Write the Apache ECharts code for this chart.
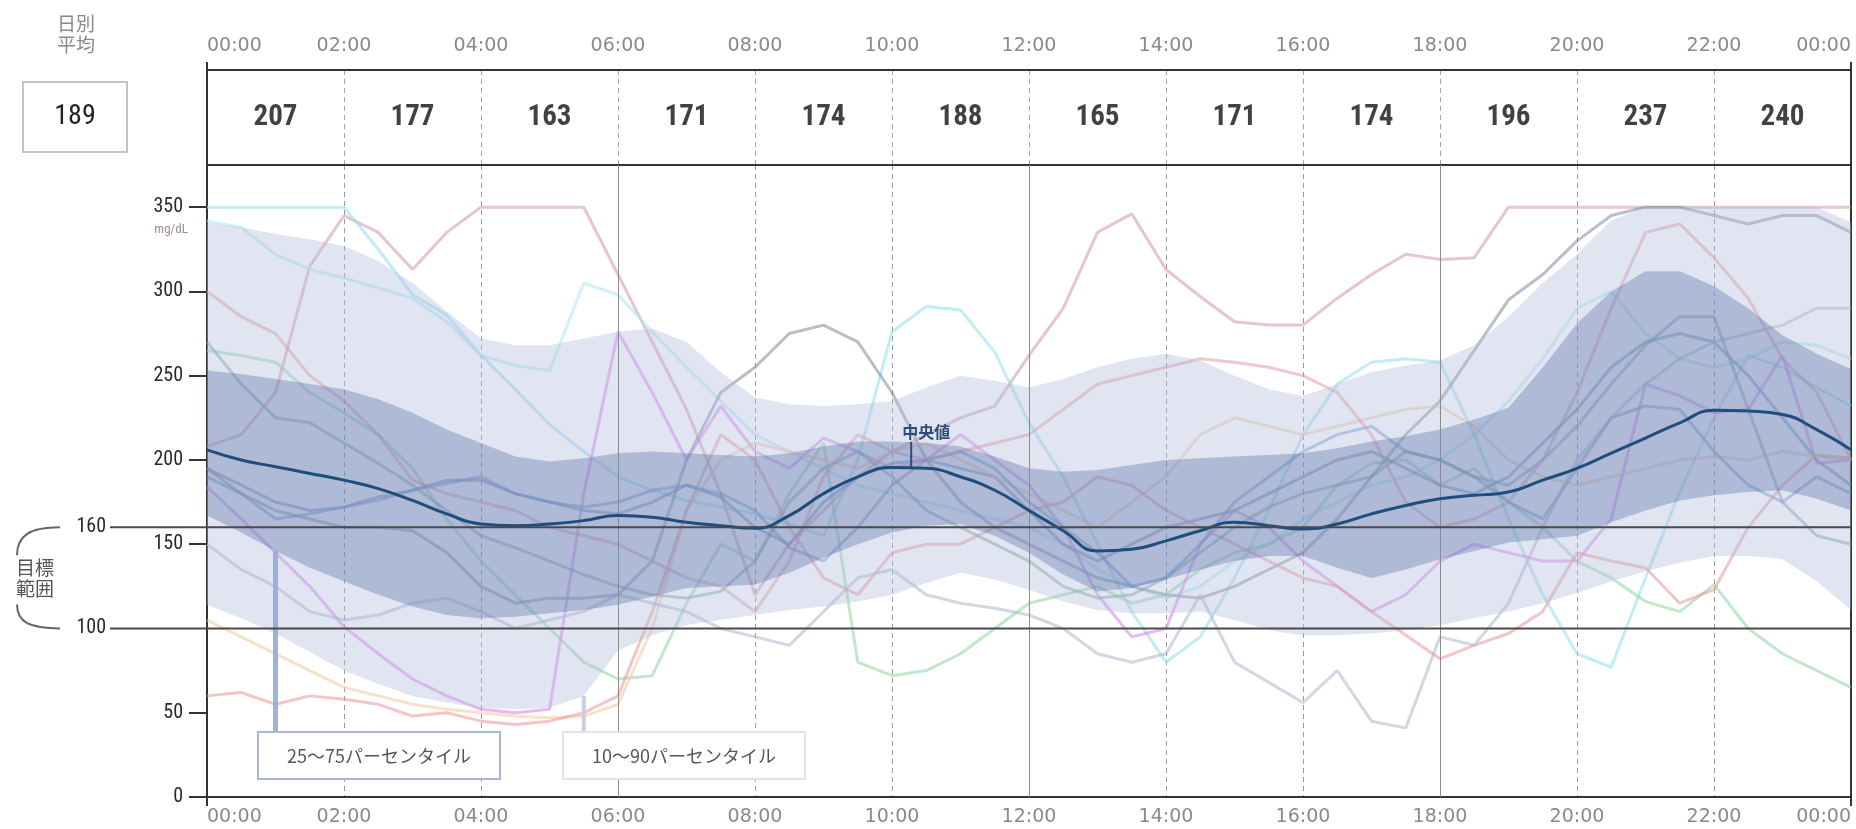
<!DOCTYPE html>
<html>
<head>
<meta charset="utf-8">
<script src="https://cdn.jsdelivr.net/npm/echarts@6/dist/echarts.min.js"></script>
<style>
  html, body { margin: 0; padding: 0; background: #fff; }
  #chart { width: 1856px; height: 829px; }
</style>
</head>
<body>
<div id="chart"></div>
<script>
// ---- data -------------------------------------------------------------
// half-hour time grid (hours since midnight)
const HOURS = [0,0.5,1,1.5,2,2.5,3,3.5,4,4.5,5,5.5,6,6.5,7,7.5,8,8.5,9,9.5,10,10.5,11,11.5,
               12,12.5,13,13.5,14,14.5,15,15.5,16,16.5,17,17.5,18,18.5,19,19.5,20,20.5,21,21.5,
               22,22.5,23,23.5,24];

// two-hour block averages shown in the header row, and the daily average
const BLOCK_AVG = [207, 177, 163, 171, 174, 188, 165, 171, 174, 196, 237, 240];
const DAILY_AVG = 189;

// target range limits (mg/dL)
const TARGET = [160, 100];
const Y_TICKS = [0, 50, 150, 200, 250, 300, 350];

// percentile profile
const MEDIAN = [206,200,196,192,188,183,176,168,162,161,162,164,167,166,163,161,159.5,167,180,190,
                195.5,195,190,182,170,158,146,147,152,158,163,161,159,162,168,173,177,179,181,188,
                195,204,213,222,229.5,229,227,218,206];
const P10 = [114,106,97,86,75,67,60,56,53,52,53,60,87,96,102,105,108,111,113,116,120,127,133,129,
             123,116,111,109,109,110,105,99,96,96,97,99,102,106,110,115,121,128,134,139,143,143,141,128,111];
const P25 = [167,157,146,136,128,120,113,108,106,107,109,111,114,119,124,125,126,133,142,150,157,161,
             162,155,145,132,122,124,129,135,140,143,143,136,130,135,141,146,151,153,155,163,170,176,
             179,181,182,177,170];
const P75 = [253,251,248,245,242,236,228,218,210,202,199,201,204,205,204,203,202,204,208,211,211,210,
             208,202,195,193,194,197,200,201,202,203,204,207,211,214,218,224,231,255,281,300,312,312,
             303,290,274,263,254];
const P90 = [341,338,334,331,327,318,305,288,272,268,268,272,276,278,270,252,237,233,232,233,235,243,
             250,247,243,248,255,260,263,259,250,242,238,245,252,256,259,268,285,305,322,342,350,350,
             350,350,350,350,341];

// daily glucose traces
const DAY_A = [208,215,240,315,345,335,313,335,350,350,350,350,310,270,230,180,120,150,170,190,205,215,
               225,232,262,290,335,346,313,297,282,280,280,296,310,322,319,320,350,350,350,350,350,350,
               350,350,350,350,350];
const DAY_B = [350,350,350,350,350,325,298,286,262,242,221,205,190,182,176,172,168,162,155,200,276,291,
               289,264,222,190,150,110,80,95,130,170,215,245,258,260,258,215,165,120,85,77,130,181,225,
               262,255,243,232];
const DAY_C = [342,338,322,313,308,302,296,282,262,256,253,305,298,276,255,235,215,205,195,185,180,175,
               170,165,160,150,135,125,118,125,140,150,165,175,185,190,200,215,235,260,290,300,275,260,
               255,260,270,268,260];
const DAY_D = [265,262,258,240,228,215,195,165,140,120,100,80,70,72,115,150,140,180,210,80,72,75,85,100,
               115,120,125,115,120,135,145,150,160,185,198,200,185,195,175,160,140,130,116,110,126,100,
               85,75,65];
const DAY_E = [195,185,175,170,172,178,182,188,188,180,175,170,168,175,185,178,160,150,175,190,198,200,
               195,190,170,150,140,150,160,165,170,180,190,200,205,195,185,180,190,210,230,255,270,275,
               270,250,225,200,185];
const DAY_F = [195,180,170,165,160,160,158,145,125,115,118,118,120,140,200,240,255,275,280,270,240,200,
               175,160,150,140,130,125,120,118,125,135,145,165,190,215,235,265,295,310,330,345,350,350,
               345,340,345,345,335];
const DAY_G = [184,165,145,125,101,85,70,60,52,50,52,180,276,240,200,232,205,195,213,205,195,200,215,200,
               185,160,120,95,100,150,170,160,140,125,110,120,140,150,145,140,140,165,245,238,228,230,
               262,198,200];
const DAY_H = [105,95,85,75,65,60,55,52,50,48,47,48,55,100,170,200,210,205,200,195,205,210,200,190,180,
               170,160,175,190,215,225,220,215,220,225,230,232,220,200,190,185,190,195,200,202,200,205,
               202,200];
const DAY_I = [60,62,55,60,58,55,48,50,45,43,45,50,60,110,170,215,200,160,130,120,145,150,150,160,170,
               175,190,185,170,160,150,140,130,125,110,96,82,90,97,110,145,140,136,115,123,160,185,203,201];
const DAY_J = [190,180,165,168,172,176,182,186,190,180,175,172,175,182,185,180,170,148,140,160,185,200,
               205,195,175,160,145,125,130,150,175,190,205,215,220,205,200,190,175,165,195,225,232,230,
               205,185,175,190,180];
const DAY_K = [150,135,125,110,105,108,115,118,110,100,105,110,120,115,110,100,95,90,110,130,135,120,115,
               112,108,100,85,80,85,120,80,68,56,75,45,41,95,90,115,160,200,225,245,260,270,275,280,290,290];
const DAY_L = [270,245,225,222,210,198,185,170,155,148,140,132,125,120,118,122,140,175,195,205,190,170,
               160,150,140,125,118,120,130,145,160,172,180,185,190,205,200,190,185,200,220,245,268,285,
               285,230,175,155,150];
const DAY_M = [300,285,275,250,235,215,188,180,175,170,160,155,150,140,130,125,110,140,190,215,205,200,
               205,210,215,230,245,250,255,260,258,255,250,240,215,175,160,165,175,200,240,290,335,340,
               320,296,260,240,200];

const DAYS = [DAY_A, DAY_B, DAY_C, DAY_D, DAY_E, DAY_F, DAY_G, DAY_H, DAY_I, DAY_J, DAY_K, DAY_L, DAY_M];
const DAY_COLORS = [
  'rgba(205,140,160,0.5)', 'rgba(150,225,240,0.6)', 'rgba(175,235,245,0.6)', 'rgba(140,215,160,0.55)',
  'rgba(95,125,170,0.5)', 'rgba(115,125,145,0.5)', 'rgba(215,125,235,0.55)', 'rgba(240,200,160,0.55)',
  'rgba(235,150,150,0.55)', 'rgba(95,145,200,0.5)', 'rgba(165,178,200,0.5)', 'rgba(105,160,150,0.5)',
  'rgba(225,145,155,0.5)'
];

// ---- presentation -----------------------------------------------------
const NUM_FONT = '"Liberation Sans Narrow","Roboto Condensed","Liberation Sans",sans-serif';
const TIME_FONT = '"DejaVu Sans",sans-serif';
const JP_FONT = '"Noto Sans CJK JP",sans-serif';

const pairs = vals => vals.map((v, i) => [HOURS[i], v]);
const timeLabel = v => {
  const h = v % 24;
  return (h < 10 ? '0' : '') + h + ':00';
};

function bandSeries(upper, lower, fill, z) {
  return {
    type: 'custom', xAxisIndex: 0, yAxisIndex: 0, silent: true, z: z,
    data: [[0, 0]], encode: { x: 0, y: 1 },
    renderItem: function (params, api) {
      if (params.dataIndex !== 0) return;
      const top = upper.map((v, i) => api.coord([HOURS[i], v]));
      const bot = lower.map((v, i) => api.coord([HOURS[i], v])).reverse();
      return { type: 'polygon', shape: { points: top.concat(bot) }, style: { fill: fill } };
    }
  };
}

const series = [];
DAYS.forEach((d, i) => {
  series.push({
    type: 'line', xAxisIndex: 0, yAxisIndex: 0, data: pairs(d), showSymbol: false, silent: true,
    lineStyle: { color: DAY_COLORS[i], width: 3 }, z: 1
  });
});
series.push(bandSeries(P90, P10, 'rgba(180,188,220,0.40)', 2));
series.push(bandSeries(P75, P25, 'rgba(85,112,165,0.36)', 3));
series.push({
  type: 'line', xAxisIndex: 0, yAxisIndex: 0, data: pairs(MEDIAN), smooth: true, showSymbol: false,
  silent: true, lineStyle: { color: '#1f4d7c', width: 3 }, z: 6,
  markLine: {
    silent: true, symbol: 'none', label: { show: false },
    lineStyle: { color: '#8c8c8c', width: 1, type: 'solid' },
    data: [{ xAxis: 6 }, { xAxis: 12 }, { xAxis: 18 }]
  }
});
series.push({
  type: 'scatter', xAxisIndex: 2, yAxisIndex: 2, silent: true, symbolSize: 1,
  itemStyle: { color: 'rgba(0,0,0,0)' },
  data: BLOCK_AVG.map((v, i) => [2 * i + 1, 0.5, v]),
  label: {
    show: true, position: 'inside', formatter: p => String(p.value[2]),
    fontSize: 29, fontWeight: 'bold', color: '#111', fontFamily: NUM_FONT
  }
});

const axisLineStyle = { color: '#333', width: 2 };
const option = {
  animation: false,
  backgroundColor: '#fff',
  grid: [
    { left: 207, right: 5, top: 165, bottom: 32 },
    { left: 207, right: 5, top: 70, height: 95 }
  ],
  xAxis: [
    {
      gridIndex: 0, type: 'value', min: 0, max: 24, interval: 2, position: 'bottom',
      axisLine: { onZero: false, lineStyle: axisLineStyle }, axisTick: { show: false },
      axisLabel: { formatter: timeLabel, fontSize: 19, color: '#8a8a8a', margin: 11, fontFamily: TIME_FONT,
                   alignMinLabel: 'left', alignMaxLabel: 'right' },
      splitLine: { show: true, lineStyle: { type: [5, 4], color: '#9a9a9a', width: 1 } }
    },
    {
      gridIndex: 0, type: 'value', min: 0, max: 24, position: 'top',
      axisLine: { onZero: false, lineStyle: axisLineStyle }, axisTick: { show: false },
      axisLabel: { show: false }, splitLine: { show: false }
    },
    {
      gridIndex: 1, type: 'value', min: 0, max: 24, interval: 2, position: 'top',
      axisLine: { onZero: false, lineStyle: axisLineStyle }, axisTick: { show: false },
      axisLabel: { formatter: timeLabel, fontSize: 19, color: '#8a8a8a', margin: 14, fontFamily: TIME_FONT,
                   alignMinLabel: 'left', alignMaxLabel: 'right' },
      splitLine: { show: true, lineStyle: { type: [5, 4], color: '#a5a5a5', width: 1 } }
    }
  ],
  yAxis: [
    {
      gridIndex: 0, type: 'value', min: 0, max: 375, interval: 50, position: 'left',
      axisLine: { show: true, onZero: false, lineStyle: axisLineStyle },
      axisTick: { show: true, customValues: Y_TICKS, length: 18, lineStyle: { color: '#333', width: 2 } },
      axisLabel: { customValues: Y_TICKS, fontSize: 20, color: '#2a2a2a', margin: 24, fontFamily: NUM_FONT },
      splitLine: { show: false }
    },
    {
      gridIndex: 0, type: 'value', min: 0, max: 375, position: 'right',
      axisLine: { show: true, onZero: false, lineStyle: axisLineStyle },
      axisTick: { show: false }, axisLabel: { show: false }, splitLine: { show: false }
    },
    {
      gridIndex: 1, type: 'value', min: 0, max: 1, position: 'left',
      axisLine: { show: true, onZero: false, lineStyle: axisLineStyle },
      axisTick: { show: false }, axisLabel: { show: false }, splitLine: { show: false }
    },
    {
      gridIndex: 1, type: 'value', min: 0, max: 1, position: 'right',
      axisLine: { show: true, onZero: false, lineStyle: axisLineStyle },
      axisTick: { show: false }, axisLabel: { show: false }, splitLine: { show: false }
    }
  ],
  series: series
};

const chart = echarts.init(document.getElementById('chart'), null, { renderer: 'canvas' });
chart.setOption(option);

// ---- annotations placed through the axis scales ------------------------
const px = (h, v) => chart.convertToPixel({ xAxisIndex: 0, yAxisIndex: 0 }, [h, v]);
const gridLeft = px(0, 0)[0];
const gridRight = px(24, 0)[0];
const g = [];

// frame overshoots at the chart corners
g.push({ type: 'line', z: 50, silent: true, shape: { x1: gridLeft, y1: 62, x2: gridLeft, y2: 70 },
         style: { stroke: '#333', lineWidth: 2 } });
g.push({ type: 'line', z: 50, silent: true, shape: { x1: gridRight, y1: 62, x2: gridRight, y2: 70 },
         style: { stroke: '#333', lineWidth: 2 } });
g.push({ type: 'line', z: 50, silent: true, shape: { x1: gridLeft, y1: px(0, 0)[1], x2: gridLeft, y2: px(0, 0)[1] + 9 },
         style: { stroke: '#333', lineWidth: 2 } });
g.push({ type: 'line', z: 50, silent: true, shape: { x1: gridRight, y1: px(0, 0)[1], x2: gridRight, y2: px(0, 0)[1] + 9 },
         style: { stroke: '#333', lineWidth: 2 } });

// target range lines with their labels
TARGET.forEach(v => {
  const y = px(0, v)[1];
  g.push({ type: 'line', z: 50, silent: true, shape: { x1: 110, y1: y, x2: gridRight, y2: y },
           style: { stroke: '#4a4a4a', lineWidth: 2 } });
  g.push({ type: 'text', z: 50, silent: true,
           style: { text: String(v), x: 106, y: y, align: 'right', verticalAlign: 'middle',
                    font: '20px ' + NUM_FONT, fill: '#2a2a2a' } });
});
const yHi = px(0, TARGET[0])[1];
const yLo = px(0, TARGET[1])[1];
g.push({ type: 'bezierCurve', z: 50, silent: true,
         shape: { x1: 60, y1: yHi, cpx1: 30, cpy1: yHi, cpx2: 17, cpy2: yHi + 8, x2: 17, y2: yHi + 28 },
         style: { stroke: '#666', lineWidth: 2, fill: null } });
g.push({ type: 'bezierCurve', z: 50, silent: true,
         shape: { x1: 17, y1: yLo - 24, cpx1: 17, cpy1: yLo - 6, cpx2: 30, cpy2: yLo, x2: 60, y2: yLo },
         style: { stroke: '#666', lineWidth: 2, fill: null } });
g.push({ type: 'text', z: 50, silent: true,
         style: { text: '目標\n範囲', x: 35, y: (yHi + yLo) / 2, align: 'center', verticalAlign: 'middle',
                  font: '19px ' + JP_FONT, lineHeight: 21, fill: '#555' } });

// unit under the top tick
const y350 = px(0, 350)[1];
g.push({ type: 'text', z: 50, silent: true,
         style: { text: 'mg/dL', x: 188, y: y350 + 23, align: 'right', verticalAlign: 'middle',
                  font: '13px ' + NUM_FONT, fill: '#a08c8c' } });

// daily average box
g.push({ type: 'text', z: 50, silent: true,
         style: { text: '日別\n平均', x: 76, y: 34, align: 'center', verticalAlign: 'middle',
                  font: '19px ' + JP_FONT, lineHeight: 21, fill: '#8a8a8a' } });
g.push({ type: 'rect', z: 50, silent: true, shape: { x: 23, y: 82, width: 104, height: 70 },
         style: { fill: '#fff', stroke: '#b0b0b0', lineWidth: 1.5 } });
g.push({ type: 'text', z: 51, silent: true,
         style: { text: String(DAILY_AVG), x: 75, y: 117, align: 'center', verticalAlign: 'middle',
                  font: '28px ' + NUM_FONT, fill: '#222' } });

// percentile band call-outs
const c1 = px(HOURS[2], P25[2]);
g.push({ type: 'line', z: 40, silent: true, shape: { x1: c1[0], y1: c1[1], x2: c1[0], y2: 732 },
         style: { stroke: 'rgba(150,170,212,0.9)', lineWidth: 5 } });
g.push({ type: 'rect', z: 50, silent: true, shape: { x: 258, y: 732, width: 242, height: 47 },
         style: { fill: '#fff', stroke: '#a9b7d6', lineWidth: 2 } });
g.push({ type: 'text', z: 51, silent: true,
         style: { text: '25～75パーセンタイル', x: 379, y: 756, align: 'center', verticalAlign: 'middle',
                  font: '18px ' + JP_FONT, fill: '#555' } });
const c2 = px(HOURS[11], P10[11]);
g.push({ type: 'line', z: 40, silent: true, shape: { x1: c2[0], y1: c2[1], x2: c2[0], y2: 732 },
         style: { stroke: '#c9cee0', lineWidth: 4 } });
g.push({ type: 'rect', z: 50, silent: true, shape: { x: 563, y: 732, width: 242, height: 47 },
         style: { fill: '#fff', stroke: '#dfe2ec', lineWidth: 2 } });
g.push({ type: 'text', z: 51, silent: true,
         style: { text: '10～90パーセンタイル', x: 684, y: 756, align: 'center', verticalAlign: 'middle',
                  font: '18px ' + JP_FONT, fill: '#555' } });

// median call-out
const mH = 10.28;
const mV = MEDIAN[20] + (MEDIAN[21] - MEDIAN[20]) * (mH - HOURS[20]) / 0.5;
const m = px(mH, mV);
g.push({ type: 'line', z: 40, silent: true, shape: { x1: m[0], y1: m[1], x2: m[0], y2: m[1] - 26 },
         style: { stroke: '#2c4f78', lineWidth: 2 } });
g.push({ type: 'text', z: 40, silent: true,
         style: { text: '中央値', x: m[0] + 15, y: m[1] - 36, align: 'center', verticalAlign: 'middle',
                  font: 'bold 16px ' + JP_FONT, fill: '#2c4f78' } });

chart.setOption({ graphic: { elements: g } });
</script>
</body>
</html>
